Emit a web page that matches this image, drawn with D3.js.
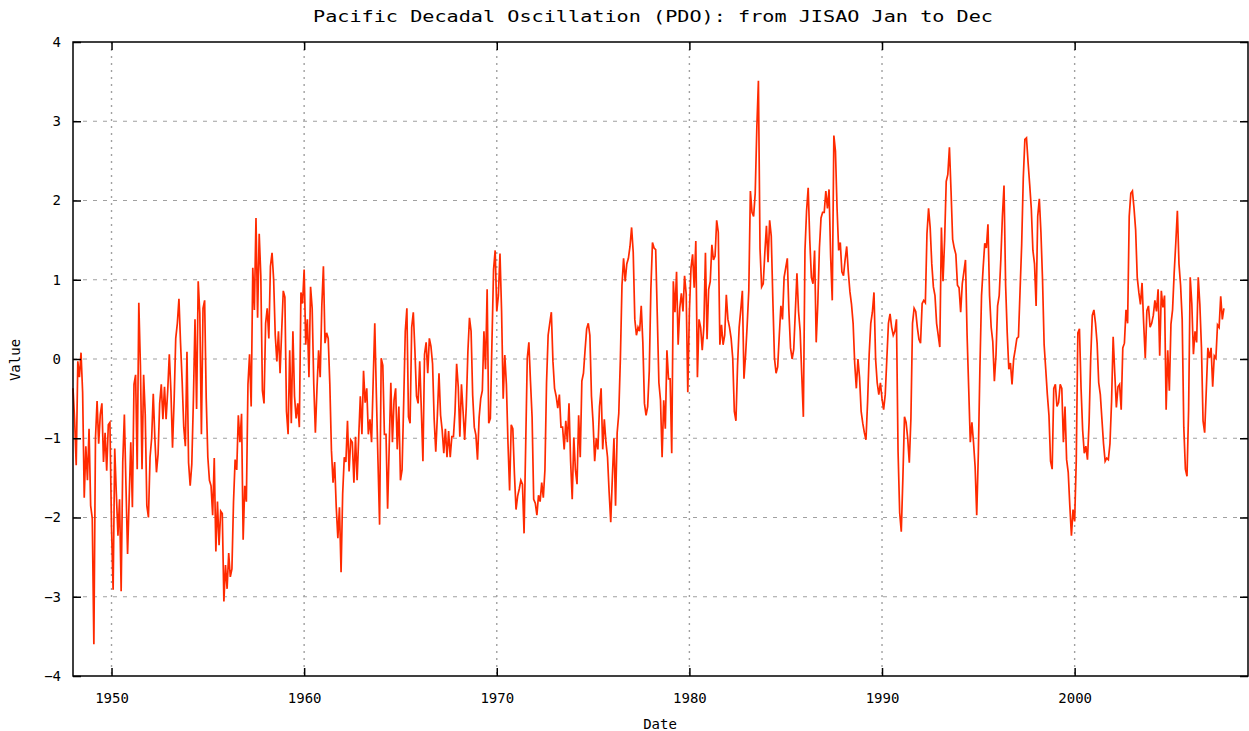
<!DOCTYPE html>
<html>
<head>
<meta charset="utf-8">
<script src="https://cdn.jsdelivr.net/npm/d3@7/dist/d3.min.js"></script>
<style>
  html, body { margin: 0; padding: 0; background: #fff; }
  svg { display: block; }
  text { font-family: "DejaVu Sans Mono", "Liberation Mono", monospace; fill: #000; }
</style>
</head>
<body>
<svg id="chart" width="1249" height="731"></svg>
<script>
// ---- data (monthly PDO index, Jan..Dec per row) ----
const startYear = 1948;
const monthly = [
  [-0.37, -0.76, -1.34, -0.03, -0.23, 0.08, -0.42, -1.75, -1.10, -1.53, -0.88, -1.85], // 1948
  [-2.01, -3.60, -1.00, -0.53, -1.07, -0.70, -0.56, -1.30, -0.93, -1.41, -0.83, -0.80], // 1949
  [-2.13, -2.91, -1.13, -1.70, -2.23, -1.77, -2.93, -1.30, -0.70, -1.60, -2.46, -1.76], // 1950
  [-1.05, -1.87, -0.32, -0.20, -1.39, 0.71, -0.08, -1.39, -0.20, -0.70, -1.85, -2.00], // 1951
  [-1.24, -1.00, -0.44, -1.00, -1.43, -1.20, -0.56, -0.32, -0.76, -0.35, -0.76, -0.40], // 1952
  [0.06, -0.40, -1.12, -0.52, 0.26, 0.45, 0.76, 0.20, -0.28, -0.86, -1.10, 0.09],       // 1953
  [-1.31, -1.60, -1.33, -0.52, 0.50, -0.63, 0.98, 0.58, -0.95, 0.64, 0.74, -0.50],      // 1954
  [-1.24, -1.53, -1.60, -1.97, -1.25, -2.43, -1.80, -2.35, -1.92, -1.95, -3.06, -2.60], // 1955
  [-2.90, -2.45, -2.75, -2.65, -1.80, -1.27, -1.40, -0.71, -1.05, -0.69, -2.28, -1.60], // 1956
  [-1.80, -0.32, 0.06, -0.60, 1.15, 0.62, 1.78, 0.52, 1.58, 1.05, -0.40, -0.56],        // 1957
  [0.45, 0.64, 0.26, 1.17, 1.34, 1.00, 0.30, -0.03, 0.35, -0.18, 0.35, 0.86],           // 1958
  [0.78, -0.66, -0.95, 0.11, -0.81, 0.35, -0.47, -0.75, -0.56, -0.86, 0.84, 0.70],      // 1959
  [1.13, 0.18, 0.50, -0.23, 0.91, 0.64, -0.32, -0.93, -0.37, 0.11, -0.23, 0.67],        // 1960
  [1.17, 0.20, 0.33, 0.26, -0.32, -1.15, -1.56, -1.30, -1.87, -2.26, -1.87, -2.69],     // 1961
  [-1.70, -1.24, -1.30, -0.78, -1.42, -1.02, -1.05, -1.56, -0.98, -1.53, -0.98, -0.47], // 1962
  [-0.95, -0.15, -0.55, -0.37, -0.95, -0.76, -1.05, -0.28, 0.45, -0.45, -1.29, -2.09],  // 1963
  [0.01, -0.08, -0.95, -0.95, -1.89, -1.10, -0.30, -1.05, -0.52, -0.37, -1.14, -0.60],  // 1964
  [-1.53, -1.40, -0.56, 0.35, 0.64, -0.73, -0.81, 0.40, 0.59, 0.11, -0.47, -0.56],      // 1965
  [-0.03, -0.64, -1.29, 0.06, 0.21, -0.18, 0.26, 0.16, -0.06, -0.76, -1.17, -0.71],     // 1966
  [-0.18, -0.71, -0.90, -1.19, -0.88, -1.24, -0.91, -1.24, -0.98, -0.98, -0.66, -0.06], // 1967
  [-0.35, -0.98, -0.32, -0.66, -1.02, -0.60, 0.09, 0.52, 0.35, -0.46, -0.86, -0.96],    // 1968
  [-1.27, -0.74, -0.50, -0.40, 0.35, -0.13, 0.88, -0.81, -0.75, 0.21, 1.13, 1.37],      // 1969
  [0.60, 0.80, 1.33, 0.60, -0.50, 0.05, -0.32, -1.07, -1.66, -0.83, -0.88, -1.45],      // 1970
  [-1.90, -1.73, -1.64, -1.53, -1.58, -2.20, -1.10, 0.01, 0.21, -0.28, -0.73, -1.77],   // 1971
  [-1.82, -1.97, -1.72, -1.80, -1.56, -1.75, -1.40, -0.30, 0.30, 0.45, 0.59, -0.03],    // 1972
  [-0.37, -0.47, -0.62, -0.45, -0.86, -0.86, -1.14, -0.78, -1.05, -0.56, -1.29, -1.77], // 1973
  [-0.99, -1.40, -1.58, -0.71, -1.24, -0.28, -0.18, 0.11, 0.38, 0.45, 0.30, -0.47],     // 1974
  [-0.80, -1.29, -1.00, -1.14, -0.60, -0.37, -1.14, -0.76, -1.05, -1.24, -1.68, -2.06], // 1975
  [-1.50, -1.00, -1.85, -0.93, -0.69, 0.00, 0.93, 1.27, 0.98, 1.20, 1.27, 1.42],        // 1976
  [1.66, 1.35, 0.50, 0.30, 0.40, 0.35, 0.67, 0.21, -0.56, -0.71, -0.60, -0.15],         // 1977
  [0.88, 1.47, 1.40, 1.38, 0.55, -0.30, -0.52, -1.24, -0.52, -0.88, 0.11, -0.25],       // 1978
  [-0.25, -1.19, 0.98, 0.59, 1.10, 0.18, 0.64, 0.83, 0.60, 1.05, 0.82, -0.42],          // 1979
  [0.60, 1.15, 1.32, 0.90, 1.49, -0.23, 0.50, 0.40, 0.11, 0.40, 1.34, 0.25],            // 1980
  [0.88, 0.98, 1.44, 1.25, 1.30, 1.75, 1.60, 0.18, 0.43, 0.18, 0.30, 0.81],             // 1981
  [0.50, 0.40, 0.26, 0.01, -0.66, -0.78, -0.08, 0.40, 0.62, 0.86, -0.25, 0.05],         // 1982
  [0.43, 0.86, 2.12, 1.85, 1.80, 2.09, 2.91, 3.51, 1.39, 0.91, 0.95, 1.34],             // 1983
  [1.68, 1.22, 1.75, 1.55, 0.74, 0.01, -0.18, -0.10, 0.30, 0.67, 0.50, 1.03],           // 1984
  [1.15, 1.27, 0.60, 0.14, 0.00, 0.12, 0.60, 1.08, 0.60, 0.35, -0.20, -0.73],           // 1985
  [1.37, 1.87, 2.16, 1.50, 1.03, 0.95, 1.37, 0.21, 0.70, 1.40, 1.78, 1.85],             // 1986
  [1.85, 2.12, 1.90, 2.14, 1.29, 0.74, 2.82, 2.62, 1.90, 1.37, 1.47, 1.10],             // 1987
  [1.05, 1.25, 1.42, 1.10, 0.85, 0.69, 0.45, -0.06, -0.37, 0.00, -0.23, -0.66],         // 1988
  [-0.81, -0.93, -1.02, -0.55, 0.06, 0.45, 0.59, 0.84, 0.00, -0.30, -0.45, -0.30],      // 1989
  [-0.50, -0.64, -0.45, 0.00, 0.45, 0.57, 0.40, 0.30, 0.35, 0.50, -1.17, -1.94],        // 1990
  [-2.18, -1.50, -0.73, -0.80, -1.00, -1.31, -0.75, 0.45, 0.64, 0.60, 0.40, 0.25],      // 1991
  [0.20, 0.70, 0.74, 0.71, 1.58, 1.90, 1.66, 1.20, 0.91, 0.80, 0.45, 0.30],             // 1992
  [0.15, 1.66, 0.98, 1.50, 2.24, 2.33, 2.67, 2.12, 1.51, 1.40, 1.32, 0.93],             // 1993
  [0.90, 0.59, 0.95, 1.10, 1.25, 0.30, -0.37, -1.05, -0.80, -1.05, -1.36, -1.97],       // 1994
  [-1.20, -0.10, 0.80, 1.15, 1.46, 1.40, 1.70, 0.80, 0.40, 0.22, -0.28, 0.05],          // 1995
  [0.67, 0.80, 1.25, 1.80, 2.19, 0.93, 0.33, -0.13, -0.05, -0.32, 0.00, 0.12],          // 1996
  [0.26, 0.28, 0.86, 1.44, 2.28, 2.77, 2.79, 2.48, 2.20, 1.90, 1.37, 1.20],             // 1997
  [0.67, 1.80, 2.02, 1.60, 1.00, 0.18, -0.13, -0.45, -0.71, -1.29, -1.39, -0.37],       // 1998
  [-0.32, -0.60, -0.55, -0.32, -0.37, -1.05, -0.60, -1.27, -1.43, -1.85, -2.23, -1.90], // 1999
  [-2.05, -1.29, 0.33, 0.38, -0.37, -0.90, -1.19, -1.10, -1.27, -0.80, 0.01, 0.55],     // 2000
  [0.62, 0.45, 0.20, -0.30, -0.45, -0.76, -1.07, -1.29, -1.25, -1.27, -1.07, -0.54],    // 2001
  [0.28, -0.18, -0.61, -0.35, -0.32, -0.64, 0.14, 0.20, 0.62, 0.45, 1.80, 2.09],        // 2002
  [2.12, 1.90, 1.63, 1.03, 0.84, 0.69, 0.96, 0.45, 0.01, 0.61, 0.67, 0.40],             // 2003
  [0.45, 0.55, 0.74, 0.60, 0.88, 0.04, 0.86, 0.65, 0.80, -0.64, 0.11, -0.40],           // 2004
  [0.44, 0.62, 1.08, 1.46, 1.87, 1.20, 0.93, 0.50, -0.86, -1.39, -1.48, -0.64],         // 2005
  [1.03, 0.70, 0.06, 0.35, 0.21, 1.03, 0.69, 0.15, -0.78, -0.93, -0.40, 0.14],          // 2006
  [0.01, 0.14, -0.35, 0.04, 0.01, 0.43, 0.40, 0.79, 0.50, 0.64]                         // 2007
];
const xTicks = [1950, 1960, 1970, 1980, 1990, 2000];
const yTicks = [-4, -3, -2, -1, 0, 1, 2, 3, 4];
const xDomain = [1948, 2009];
const yDomain = [-4, 4];
const titleText = "Pacific Decadal Oscillation (PDO): from JISAO Jan to Dec";
const xLabel = "Date";
const yLabel = "Value";

// flatten into points
const series = [];
monthly.forEach((row, i) => row.forEach((v, m) => series.push({ t: startYear + i + m / 12, v })));

// ---- layout ----
const W = 1249, H = 731;
const L = 73, R = 1248, T = 42, B = 676;
const svg = d3.select("#chart");
const x = d3.scaleLinear().domain(xDomain).range([L, R]);
const y = d3.scaleLinear().domain(yDomain).range([B, T]);

// grid
const grid = svg.append("g");
grid.selectAll("line.hg").data(yTicks.filter(d => d > yDomain[0] && d < yDomain[1])).enter()
  .append("line").attr("x1", L).attr("x2", R).attr("y1", d => y(d)).attr("y2", d => y(d))
  .attr("stroke", "#a0a0a0").attr("stroke-width", 1.2).attr("stroke-dasharray", "4,6");
grid.selectAll("line.vg").data(xTicks).enter()
  .append("line").attr("x1", d => x(d)).attr("x2", d => x(d)).attr("y1", T).attr("y2", B)
  .attr("stroke", "#a0a0a0").attr("stroke-width", 1.4).attr("stroke-dasharray", "2,5");

// data line
const line = d3.line().x(d => x(d.t)).y(d => y(d.v));
svg.append("path").datum(series).attr("d", line)
  .attr("fill", "none").attr("stroke", "#ff2a00").attr("stroke-width", 1.7)
  .attr("stroke-linejoin", "miter");

// axes (ticks inward, on all sides)
const fs = "14px";
const axL = svg.append("g").attr("transform", `translate(${L},0)`)
  .call(d3.axisLeft(y).tickValues(yTicks).tickSize(-8).tickPadding(14).tickFormat(d3.format("d")));
const axR = svg.append("g").attr("transform", `translate(${R},0)`)
  .call(d3.axisRight(y).tickValues(yTicks).tickSize(-8).tickFormat(""));
const axB = svg.append("g").attr("transform", `translate(0,${B})`)
  .call(d3.axisBottom(x).tickValues(xTicks).tickSize(-8).tickPadding(14).tickFormat(d3.format("d")));
const axT = svg.append("g").attr("transform", `translate(0,${T})`)
  .call(d3.axisTop(x).tickValues(xTicks).tickSize(-8).tickFormat(""));
[axL, axR, axB, axT].forEach(a => {
  a.select(".domain").remove();
  a.selectAll(".tick line").attr("stroke", "#000").attr("stroke-width", 1.5);
  a.selectAll("text").attr("font-family", "DejaVu Sans Mono, monospace").attr("font-size", fs).attr("fill", "#000");
});
axL.selectAll(".tick text").attr("x", -12);
axB.selectAll(".tick text").attr("dy", "0.9em");

// frame
svg.append("rect").attr("x", L).attr("y", T).attr("width", R - L).attr("height", B - T)
  .attr("fill", "none").attr("stroke", "#000").attr("stroke-width", 1.5);

// labels
svg.append("text").attr("x", 653).attr("y", 22).attr("text-anchor", "middle")
  .attr("font-size", "15px").attr("textLength", 680).attr("lengthAdjust", "spacingAndGlyphs")
  .text(titleText);
svg.append("text").attr("x", 660).attr("y", 729).attr("text-anchor", "middle")
  .attr("font-size", fs).text(xLabel);
svg.append("text").attr("transform", "translate(20,360) rotate(-90)").attr("text-anchor", "middle")
  .attr("font-size", fs).text(yLabel);
</script>
</body>
</html>
